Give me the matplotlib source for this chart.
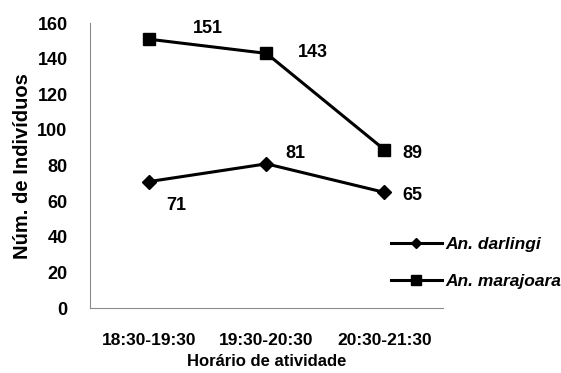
import matplotlib.pyplot as plt

plt.rcParams['font.family'] = ['Liberation Sans', 'DejaVu Sans']

horarios = ["18:30-19:30", "19:30-20:30", "20:30-21:30"]
darlingi = [71, 81, 65]
marajoara = [151, 143, 89]

fig = plt.figure(figsize=(5.61, 3.73), dpi=100)
ax = fig.add_axes([0.160, 0.174, 0.630, 0.764])

x = range(len(horarios))
ax.plot(x, darlingi, color='black', lw=2.2, marker='D', ms=7, label="An. darlingi")
ax.plot(x, marajoara, color='black', lw=2.2, marker='s', ms=9, label="An. marajoara")

# rotulos dos valores (deslocamento em pixels)
offs_d = [(18, -28), (19, 6), (18, -8)]
offs_m = [(44, 6), (31, -4), (18, -8)]
for i in x:
    ax.annotate(str(darlingi[i]), (i, darlingi[i]), xytext=offs_d[i], textcoords='offset pixels',
                fontsize=13, fontweight='bold')
    ax.annotate(str(marajoara[i]), (i, marajoara[i]), xytext=offs_m[i], textcoords='offset pixels',
                fontsize=13, fontweight='bold')

ax.set_xlim(-0.5, 2.5)
ax.set_ylim(0, 160)
ax.set_yticks(range(0, 161, 20))
ax.set_xticks(list(x))
ax.set_xticklabels(horarios)
ax.tick_params(axis='y', length=0, labelsize=13, pad=16)
ax.tick_params(axis='x', length=0, labelsize=12.5, pad=18)
for t in ax.get_xticklabels() + ax.get_yticklabels():
    t.set_fontweight('bold')
for s in ['top', 'right']:
    ax.spines[s].set_visible(False)
for s in ['left', 'bottom']:
    ax.spines[s].set_color('#8c8c8c')

ax.set_xlabel("Horário de atividade", fontsize=12, fontweight='bold', labelpad=4)
ax.set_ylabel("Núm. de Indivíduos", fontsize=14.5, fontweight='bold', labelpad=4)

leg = fig.legend(loc='upper left', bbox_to_anchor=(0.682, 0.388), frameon=False,
                 prop={'style': 'italic', 'weight': 'bold', 'size': 12.5},
                 handlelength=2.9, labelspacing=1.25, handletextpad=0.2,
                 borderpad=0, markerscale=0.8)

fig.savefig("out.png", dpi=100)
